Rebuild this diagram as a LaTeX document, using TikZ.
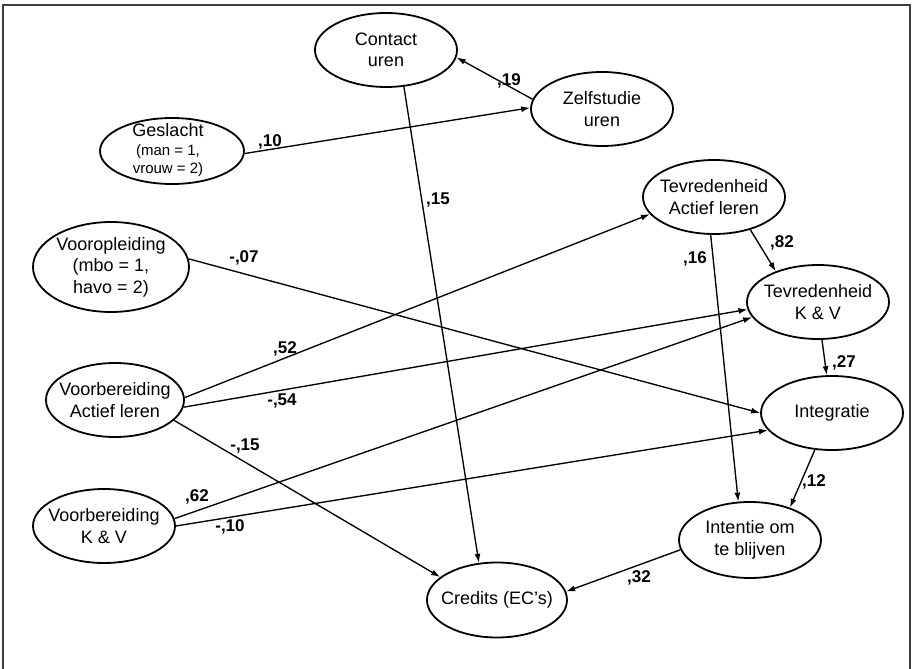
\documentclass[tikz,border=0pt]{standalone}
\usepackage{fontspec}
\setmainfont{Liberation Sans}
\usetikzlibrary{arrows.meta,shapes.geometric}
\begin{document}
\begin{tikzpicture}[x=1pt,y=-1pt,
  ell/.style={ellipse,draw,line width=1.8pt,minimum width=142pt,minimum height=74pt,inner sep=0pt},
  txt/.style={align=center,font=\fontsize{18}{21.5}\selectfont,inner sep=0pt},
  arr/.style={line width=1.35pt,-{Latex[length=9pt,width=6pt]}},
  lab/.style={font=\bfseries\fontsize{17}{20}\selectfont,inner sep=0pt},
  frame/.style={draw=black!75,line width=1.8pt}]
\useasboundingbox (0,0) rectangle (919,669);
\draw[frame] (3,669) -- (3,5) -- (910,5) -- (910,669);

% ellipses
\node[ell] (contact) at (386,50) {};
\node[ell] (zelf) at (602,109) {};
\node[ell,minimum width=144pt,minimum height=66pt] (gesl) at (172,151) {};
\node[ell,minimum width=156pt,minimum height=90pt] (voorop) at (111,267) {};
\node[ell,minimum width=138pt] (val) at (115,400) {};
\node[ell] (vkv) at (104,526) {};
\node[ell] (tal) at (714,197) {};
\node[ell] (tkv) at (818,302) {};
\node[ell] (integ) at (832,413) {};
\node[ell,minimum height=76pt] (intentie) at (750,540) {};
\node[ell,minimum width=140pt,minimum height=75pt] (credits) at (497,600) {};

% texts
\node[txt] (contactT) at (contact) {Contact\\uren};
\node[txt] (zelfT) at (zelf) {Zelfstudie\\uren};
\node[txt] (geslT) at (168,150) {Geslacht\\[-2pt]\fontsize{15}{18}\selectfont(man = 1,\\[-4pt]\fontsize{15}{18}\selectfont vrouw = 2)};
\node[txt] (vooropT) at (voorop) {Vooropleiding\\(mbo = 1,\\havo = 2)};
\node[txt] (valT) at (val) {Voorbereiding\\Actief leren};
\node[txt] (vkvT) at (vkv) {Voorbereiding\\K \& V};
\node[txt] (talT) at (tal) {Tevredenheid\\Actief leren};
\node[txt] (tkvT) at (tkv) {Tevredenheid\\K \& V};
\node[txt] (integT) at (integ) {Integratie};
\node[txt] (intentieT) at (intentie) {Intentie om\\te blijven};
\node[txt] (creditsT) at (credits) {Credits (EC’s)};

% connectors
\draw[arr] (contact.-64) -- (credits.116.6);
\draw[arr] (zelf.172.7) -- (contact.-6.4);
\draw[arr] (gesl.-2.4) -- (zelf.179);
\draw[arr] (voorop.6.5) -- (integ.180);
\draw[arr] (val.2) -- (tal.195.5);
\draw[arr] (val.-6) -- (tkv.186.3);
\draw[arr] (val.-19) -- (credits.158);
\draw[arr] (vkv.6.6) -- (tkv.193.6);
\draw[arr] (vkv.0.8) -- (integ.195);
\draw[arr] (tal.-42.4) -- (tkv.144.5);
\draw[arr] (tal.-95) -- (intentie.107);
\draw[arr] (tkv.-84) -- (integ.98);
\draw[arr] (integ.-115) -- (intentie.39.8);
\draw[arr] (intentie.188) -- (credits.7);

% labels
\node[lab] (l10) at (270,142) {,10};
\node[lab] (l15) at (438,200) {,15};
\node[lab] (l07) at (244,258) {-,07};
\node[lab] (l19) at (509,81) {,19};
\node[lab] (l82) at (782,243) {,82};
\node[lab] (l16) at (695,259) {,16};
\node[lab] (l52) at (285,349) {,52};
\node[lab] (l54) at (282,401) {-,54};
\node[lab] (l15b) at (245,446) {-,15};
\node[lab] (l62) at (197,497) {,62};
\node[lab] (l10b) at (230,527) {-,10};
\node[lab] (l27) at (844,363) {,27};
\node[lab] (l12) at (814,482) {,12};
\node[lab] (l32) at (639,578) {,32};
\end{tikzpicture}
\end{document}
